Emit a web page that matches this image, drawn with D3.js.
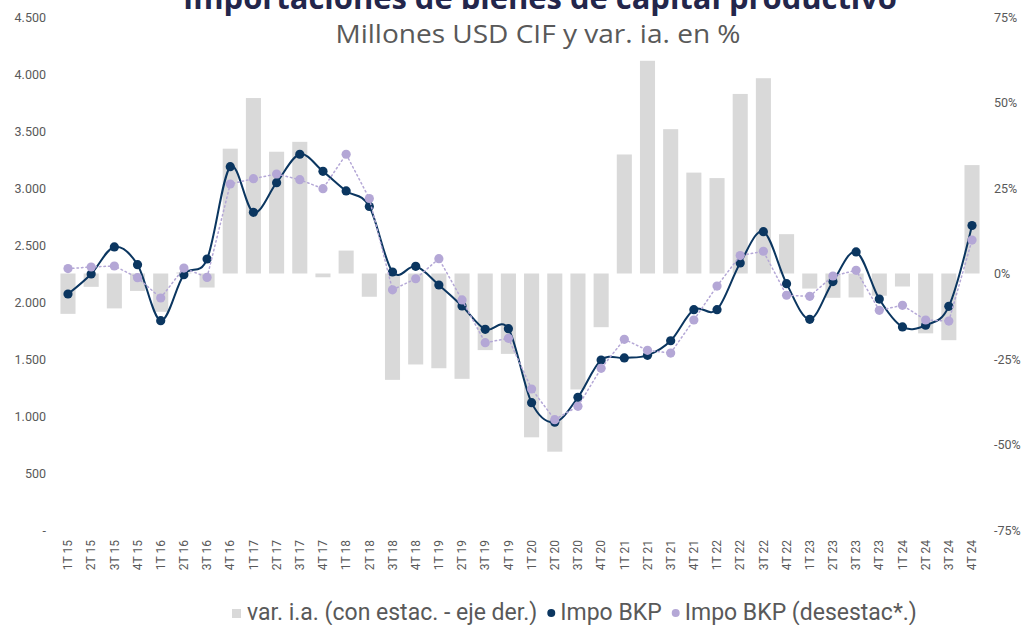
<!DOCTYPE html>
<html>
<head>
  <meta charset="utf-8">
  <style type="text/css">
    body { margin: 0; background: #fff; }
    .tick text { font-family: Roboto, sans-serif; }
  </style>
  <script src="https://d3js.org/d3.v7.min.js"></script>
</head>
<body>
  <div id="chart"></div>
  <script type="text/javascript">
    // quarters
    var quarters = ["1T 15","2T 15","3T 15","4T 15","1T 16","2T 16","3T 16","4T 16",
      "1T 17","2T 17","3T 17","4T 17","1T 18","2T 18","3T 18","4T 18",
      "1T 19","2T 19","3T 19","4T 19","1T 20","2T 20","3T 20","4T 20",
      "1T 21","2T 21","3T 21","4T 21","1T 22","2T 22","3T 22","4T 22",
      "1T 23","2T 23","3T 23","4T 23","1T 24","2T 24","3T 24","4T 24"];

    // var. i.a. (con estac.) in %, right axis
    var varIa = [-11.8, -3.9, -10.2, -5.1, -11.2, 0.3, -4.1, 36.5,
      51.3, 35.6, 38.5, -1.1, 6.7, -6.8, -31.1, -26.6,
      -27.7, -30.8, -22.4, -23.5, -47.9, -52.1, -33.9, -15.7,
      34.8, 62.2, 42.2, 29.5, 27.9, 52.5, 57.1, 11.5,
      -4.4, -7.1, -7.0, -6.5, -3.8, -17.5, -19.5, 31.7];

    // Impo BKP, millones USD CIF
    var impoBkp = [2070, 2246, 2483, 2327, 1836, 2240, 2377, 3187,
      2787, 3047, 3296, 3146, 2974, 2838, 2263, 2313,
      2149, 1965, 1760, 1766, 1117, 945, 1164, 1491,
      1509, 1532, 1660, 1933, 1933, 2342, 2617, 2161,
      1848, 2179, 2439, 2026, 1781, 1796, 1962, 2671];

    // Impo BKP desestacionalizada
    var impoDes = [2293, 2307, 2316, 2213, 2035, 2298, 2216, 3035,
      3082, 3123, 3073, 2994, 3296, 2908, 2107, 2204,
      2380, 2018, 1643, 1681, 1237, 968, 1085, 1418,
      1673, 1576, 1552, 1842, 2140, 2407, 2445, 2059,
      2050, 2228, 2278, 1927, 1971, 1842, 1833, 2543];

    var leftTicks = [0, 500, 1000, 1500, 2000, 2500, 3000, 3500, 4000, 4500];
    var rightTicks = [-75, -50, -25, 0, 25, 50, 75];

    var width = 1025, height = 625;
    var gray = "#595959", barColor = "#d9d9d9", navy = "#0b3660", lilac = "#b4a7d6";

    var svg = d3.select("#chart").append("svg")
      .attr("width", width).attr("height", height);

    var x = d3.scaleBand().domain(quarters).range([56.4, 983.6])
      .paddingInner(0.35).paddingOuter(0.175);
    var y = d3.scaleLinear().domain([0, 4500]).range([530, 17]);
    var yR = d3.scaleLinear().domain([-75, 75]).range([530, 17]);
    var cx = function(i) { return x(quarters[i]) + x.bandwidth() / 2; };

    // titles
    svg.append("text")
      .attr("x", 540).attr("y", 9).attr("text-anchor", "middle")
      .attr("textLength", 714).attr("lengthAdjust", "spacingAndGlyphs")
      .style("font-family", "'Open Sans', sans-serif").style("font-weight", "bold")
      .style("font-size", "30px").style("fill", "#23264b")
      .text("Importaciones de bienes de capital productivo");
    svg.append("text")
      .attr("x", 538).attr("y", 43).attr("text-anchor", "middle")
      .attr("textLength", 405).attr("lengthAdjust", "spacingAndGlyphs")
      .style("font-family", "'Open Sans', sans-serif")
      .style("font-size", "25px").style("fill", gray)
      .text("Millones USD CIF y var. ia. en %");

    // left axis
    var yAxis = d3.axisLeft(y).tickValues(leftTicks).tickSize(0).tickPadding(0)
      .tickFormat(function(d) { return d === 0 ? "-" : d3.format(",")(d).replace(/,/g, "."); });
    svg.append("g").attr("transform", "translate(46,0)").call(yAxis)
      .call(function(g) { g.select(".domain").remove(); })
      .selectAll("text").style("font-size", "12.5px").style("fill", gray);

    // right axis
    var yRAxis = d3.axisRight(yR).tickValues(rightTicks).tickSize(0).tickPadding(0)
      .tickFormat(function(d) { return d + "%"; });
    svg.append("g").attr("transform", "translate(994,0)").call(yRAxis)
      .call(function(g) { g.select(".domain").remove(); })
      .selectAll("text").style("font-size", "12.5px").style("fill", gray);

    // x axis labels, rotated
    var xAxis = d3.axisBottom(x).tickSize(0).tickPadding(0);
    var gx = svg.append("g").attr("transform", "translate(0,538)").call(xAxis);
    gx.select(".domain").remove();
    gx.selectAll("text")
      .attr("transform", "rotate(-90)").attr("x", -2).attr("y", 0).attr("dy", "0.35em")
      .attr("text-anchor", "end")
      .style("font-size", "12px").style("fill", gray);

    // bars
    svg.append("g").selectAll("rect").data(varIa).enter().append("rect")
      .attr("x", function(d, i) { return x(quarters[i]); })
      .attr("width", x.bandwidth())
      .attr("y", function(d) { return yR(Math.max(0, d)); })
      .attr("height", function(d) { return Math.abs(yR(d) - yR(0)); })
      .attr("fill", barColor);

    // Impo BKP (smoothed line)
    var smooth = d3.line().x(function(d, i) { return cx(i); }).y(function(d) { return y(d); })
      .curve(d3.curveCatmullRom.alpha(0));
    svg.append("path").datum(impoBkp).attr("d", smooth)
      .attr("fill", "none").attr("stroke", navy).attr("stroke-width", 2);
    svg.append("g").selectAll("circle").data(impoBkp).enter().append("circle")
      .attr("cx", function(d, i) { return cx(i); }).attr("cy", function(d) { return y(d); })
      .attr("r", 4.6).attr("fill", navy);

    // desestacionalizada (dotted)
    var straight = d3.line().x(function(d, i) { return cx(i); }).y(function(d) { return y(d); });
    svg.append("path").datum(impoDes).attr("d", straight)
      .attr("fill", "none").attr("stroke", lilac).attr("stroke-width", 1.5)
      .attr("stroke-dasharray", "1.5,3").attr("stroke-linecap", "round");
    svg.append("g").selectAll("circle").data(impoDes).enter().append("circle")
      .attr("cx", function(d, i) { return cx(i); }).attr("cy", function(d) { return y(d); })
      .attr("r", 4.6).attr("fill", lilac);

    // legend, laid out left to right from measured text widths
    var leg = svg.append("g").style("font-family", "Roboto, sans-serif")
      .style("font-size", "23px").style("fill", gray);
    var lx = 232, base = 620;
    leg.append("rect").attr("x", lx).attr("y", 609).attr("width", 9).attr("height", 9).attr("fill", barColor);
    lx += 15;
    var t1 = leg.append("text").attr("x", lx).attr("y", base).text("var. i.a. (con estac. - eje der.)");
    lx += t1.node().getComputedTextLength() + 14;
    leg.append("circle").attr("cx", lx).attr("cy", 613).attr("r", 4).attr("fill", navy);
    lx += 9;
    var t2 = leg.append("text").attr("x", lx).attr("y", base).text("Impo BKP");
    lx += t2.node().getComputedTextLength() + 14;
    leg.append("circle").attr("cx", lx).attr("cy", 613).attr("r", 4).attr("fill", lilac);
    lx += 9;
    leg.append("text").attr("x", lx).attr("y", base).text("Impo BKP (desestac*.)");
  </script>
</body>
</html>
